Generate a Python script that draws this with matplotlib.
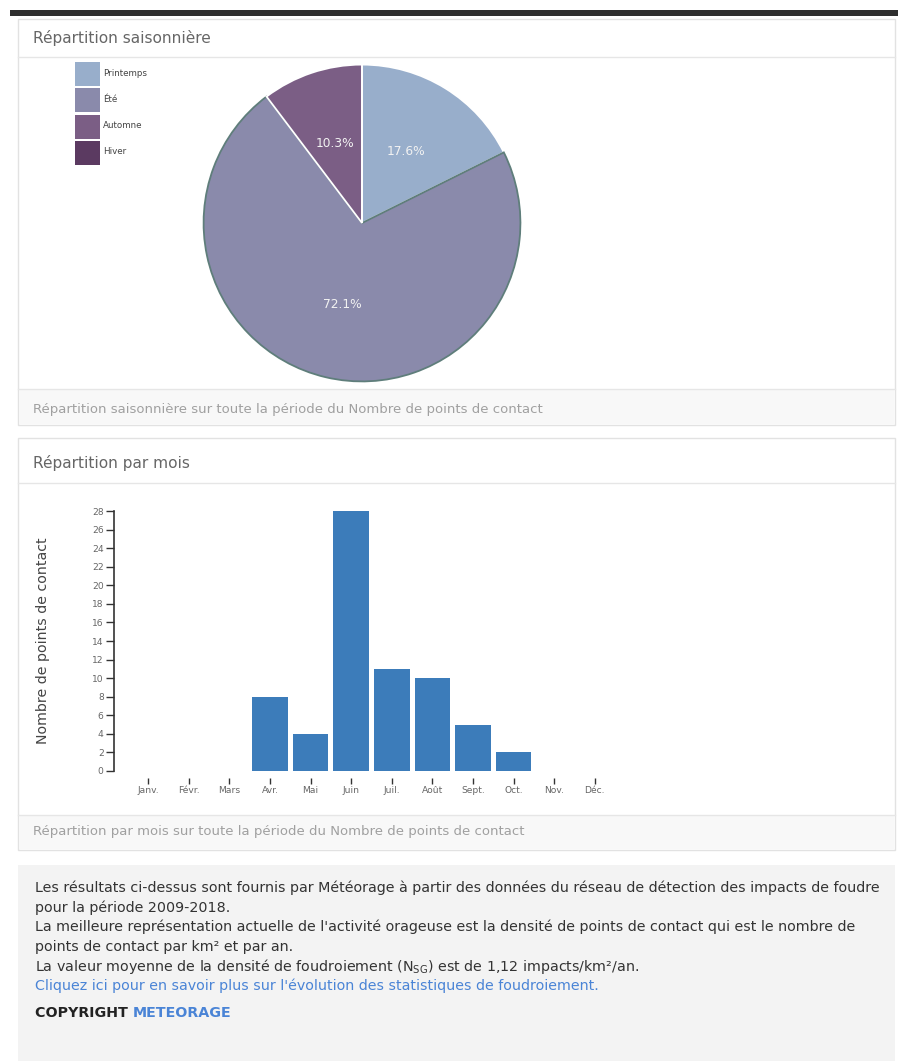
import matplotlib
matplotlib.use("Agg")
import matplotlib.pyplot as plt
from matplotlib.patches import Rectangle
import numpy as np

plt.rcParams['font.family'] = ['DejaVu Sans']
plt.rcParams['mathtext.fontset'] = 'dejavusans'
plt.rcParams['mathtext.default'] = 'regular'

# ---------------- data ----------------
seasons = ["Printemps", "Été", "Automne", "Hiver"]
season_values = [12, 49, 7, 0]
season_colors = ["#98aecb", "#8a8aab", "#7b5e85", "#5b3a61"]
season_edges = ["white", "#5f7e7b", "white", "white"]

months = ["Janv.", "Févr.", "Mars", "Avr.", "Mai", "Juin", "Juil.", "Août", "Sept.", "Oct.", "Nov.", "Déc."]
month_values = [0, 0, 0, 8, 4, 28, 11, 10, 5, 2, 0, 0]
yticks = list(range(0, 29, 2))

title1 = "Répartition saisonnière"
caption1 = "Répartition saisonnière sur toute la période du Nombre de points de contact"
title2 = "Répartition par mois"
caption2 = "Répartition par mois sur toute la période du Nombre de points de contact"
ylabel = "Nombre de points de contact"
body_lines = [
    "Les résultats ci-dessus sont fournis par Météorage à partir des données du réseau de détection des impacts de foudre",
    "pour la période 2009-2018.",
    "La meilleure représentation actuelle de l'activité orageuse est la densité de points de contact qui est le nombre de",
    "points de contact par km² et par an.",
    "La valeur moyenne de la densité de foudroiement ($N_{SG}$) est de 1,12 impacts/km²/an.",
]
link_line = "Cliquez ici pour en savoir plus sur l'évolution des statistiques de foudroiement."

W, H = 898, 1061
fig = plt.figure(figsize=(W / 100, H / 100), dpi=100)
renderer = fig.canvas.get_renderer()

def axbox(x0, y0, x1, y1, **kw):
    return fig.add_axes([x0 / W, 1 - y1 / H, (x1 - x0) / W, (y1 - y0) / H], **kw)

# background layer in pixel coordinates
bg = axbox(0, 0, W, H)
bg.set_xlim(0, W)
bg.set_ylim(H, 0)
bg.axis("off")
bg.set_zorder(0)

def rect(x0, y0, x1, y1, fc, ec="none", lw=1.0):
    bg.add_patch(Rectangle((x0, y0), x1 - x0, y1 - y0, facecolor=fc, edgecolor=ec, linewidth=lw))

def fit_size(s, target_px, base=10.0, **kw):
    t = bg.text(0, 0, s, fontsize=base, **kw)
    w = t.get_window_extent(renderer=renderer).width
    t.remove()
    return base * target_px / w

# top dark bar
rect(10, 10, W, 16, "#2e2e2e")
title_fs = fit_size(title1, 177)
cap_fs = fit_size(caption1, 507)
# panel 1
rect(18, 19, 895, 425, "white", "#e2e2e2")
bg.plot([18, 895], [57, 57], color="#e6e6e6", lw=1)
rect(19, 389, 894, 424, "#f8f8f8")
bg.plot([18, 895], [389, 389], color="#e6e6e6", lw=1)
bg.text(33, 38, title1, fontsize=title_fs, color="#666666", va="center")
bg.text(33, 409, caption1, fontsize=cap_fs, color="#a0a0a0", va="center")
# panel 2
rect(18, 438, 895, 850, "white", "#e2e2e2")
bg.plot([18, 895], [483, 483], color="#e6e6e6", lw=1)
rect(19, 815, 894, 849, "#f8f8f8")
bg.plot([18, 895], [815, 815], color="#e6e6e6", lw=1)
bg.text(33, 463, title2, fontsize=title_fs, color="#666666", va="center")
bg.text(33, 832, caption2, fontsize=cap_fs, color="#a0a0a0", va="center")
# panel 3
rect(18, 865, 895, H, "#f3f3f3")
body_fs = fit_size(body_lines[0], 845)
for i, line in enumerate(body_lines):
    bg.text(35, 888 + i * 19.5, line, fontsize=body_fs, color="#333333", va="center")
bg.text(35, 888 + 5 * 19.5, link_line, fontsize=body_fs, color="#4a84d6", va="center")
t = bg.text(35, 1013, "COPYRIGHT ", fontsize=body_fs, color="#222222", va="center", fontweight="bold")
bb = t.get_window_extent(renderer=renderer)
bg.text(35 + bb.width, 1013, "METEORAGE", fontsize=body_fs, color="#4a84d6", va="center", fontweight="bold")

# legend
for i, (name, col) in enumerate(zip(seasons, season_colors)):
    y0 = 62 + i * 26.3
    rect(75, y0, 100, y0 + 24, col)
    bg.text(103, y0 + 11, name, fontsize=6.3, color="#444444", va="center")

# ---------------- pie ----------------
axp = axbox(202, 63, 522, 383)
axp.set_zorder(2)
wedges, texts, autotexts = axp.pie(
    season_values, colors=season_colors, startangle=90, counterclock=False,
    autopct=lambda p: f"{p:.1f}%" if p > 0 else "", pctdistance=0.53,
    textprops=dict(color="#f2f2f2", fontsize=8.8),
    wedgeprops=dict(linewidth=1.3))
for w, ec in zip(wedges, season_edges):
    w.set_edgecolor(ec)
axp.set_xlim(-1.01, 1.01)
axp.set_ylim(-1.01, 1.01)
axp.set_aspect("equal")

# ---------------- bars ----------------
axb = axbox(128, 511, 615, 771)
axb.set_zorder(2)
axb.patch.set_alpha(0)
x = np.arange(len(months))
axb.bar(x, month_values, width=0.88, color="#3c7cba")
axb.set_xlim(-0.5, len(months) - 0.5)
axb.set_ylim(0, 28)
axb.set_yticks(yticks)
axb.set_xticks(x)
axb.set_xticklabels(months)
for s in ["top", "right"]:
    axb.spines[s].set_visible(False)
axb.spines["bottom"].set_visible(False)
axb.spines["bottom"].set_position(("outward", 5))
axb.spines["left"].set_position(("outward", 10))
axb.spines["left"].set_color("#333333")
axb.spines["left"].set_linewidth(1.2)
axb.tick_params(axis="y", length=6, width=1, labelsize=6.6, colors="#333333", pad=1.5)
axb.tick_params(axis="x", length=4, width=1, labelsize=6.6, colors="#333333", pad=2)
for lbl in axb.get_yticklabels() + axb.get_xticklabels():
    lbl.set_color("#666666")
ylab_fs = fit_size(ylabel, 205)
bg.text(43, 641, ylabel, rotation=90, fontsize=ylab_fs, color="#444444", va="center", ha="center")

fig.savefig("out.png", dpi=100)
